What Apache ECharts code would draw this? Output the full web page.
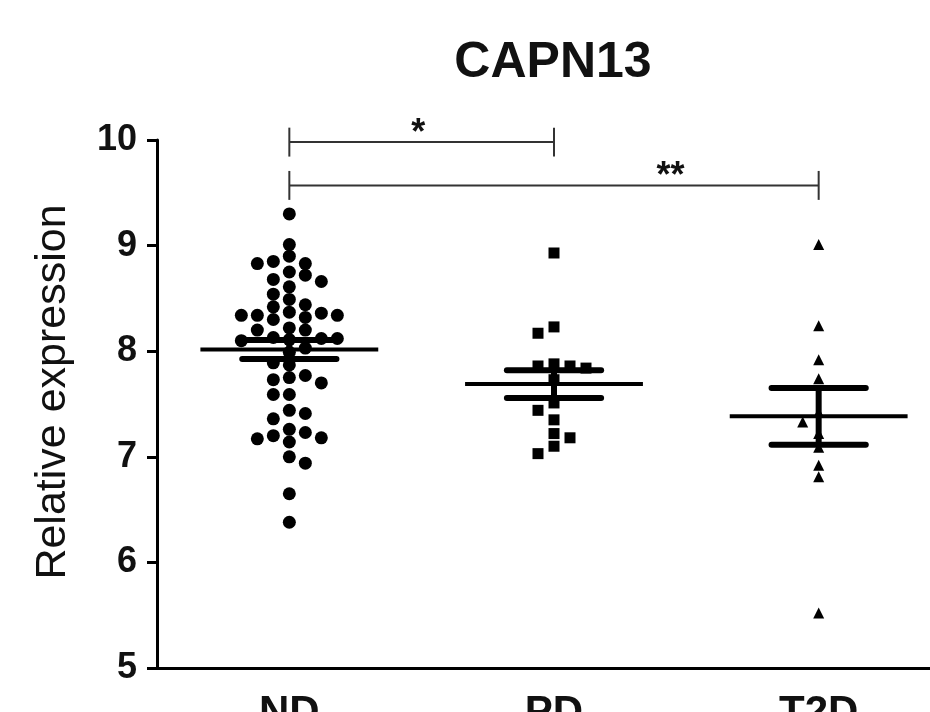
<!DOCTYPE html>
<html>
<head>
<meta charset="utf-8">
<script src="https://cdn.jsdelivr.net/npm/echarts@6/dist/echarts.min.js"></script>
<style>
  html, body { margin: 0; padding: 0; background: #ffffff; }
  #chart { width: 930px; height: 712px; }
</style>
</head>
<body>
<div id="chart"></div>
<script>
// Groups and per-subject relative expression of CAPN13
const categories = ['ND', 'PD', 'T2D'];

const ndValues = [
  9.30, 9.01, 8.90, 8.85, 8.83, 8.83, 8.75, 8.72, 8.68, 8.66,
  8.61, 8.54, 8.49, 8.44, 8.42, 8.37, 8.36, 8.34, 8.34, 8.34,
  8.32, 8.30, 8.22, 8.20, 8.20, 8.13, 8.12, 8.12, 8.11, 8.10,
  8.03, 7.99, 7.89, 7.87, 7.77, 7.75, 7.73, 7.70, 7.59, 7.59,
  7.44, 7.41, 7.36, 7.26, 7.23, 7.20, 7.18, 7.17, 7.14, 7.00,
  6.94, 6.65, 6.38
];
const pdValues = [
  8.93, 8.23, 8.17, 7.88, 7.86, 7.86, 7.84, 7.73, 7.51, 7.44,
  7.35, 7.22, 7.18, 7.10, 7.03
];
const t2dValues = [
  9.01, 8.24, 7.92, 7.74, 7.42, 7.33, 7.22, 7.09, 6.92, 6.81, 5.52
];

// Pairwise comparisons: [group A, group B] and their significance marks
const comparisons = [[0, 1], [0, 2]];
const significance = ['*', '**'];

const groups = [ndValues, pdValues, t2dValues];
const symbols = ['circle', 'rect', 'triangle'];
const symbolSizes = [13, 11, 11];

// Plot geometry
const GRID = { left: 157, top: 140, width: 794, height: 528 };
const Y_MIN = 5, Y_MAX = 10;
const pxPerY = GRID.height / (Y_MAX - Y_MIN);
const pxPerBand = GRID.width / categories.length;
const FONT = "'Liberation Sans', Arial, Helvetica, sans-serif";

// Scatter-dot layout: each point goes to the nearest free column around its group centre
function swarm(values, groupIndex) {
  const stepX = 16 / pxPerBand;
  const minGap = 11 / pxPerY;
  const order = values.map((v, i) => i).sort((a, b) => values[b] - values[a]);
  const columns = {};
  const out = new Array(values.length);
  let toggle = -1;
  order.forEach(idx => {
    const v = values[idx];
    const candidates = [0];
    for (let m = 1; m < 12; m++) { candidates.push(toggle * m, -toggle * m); }
    for (const c of candidates) {
      const col = columns[c] || (columns[c] = []);
      if (col.every(u => Math.abs(u - v) >= minGap)) {
        col.push(v);
        out[idx] = [groupIndex + 0.5 + c * stepX, v];
        if (c !== 0) toggle = -toggle;
        break;
      }
    }
  });
  return out;
}

function meanSem(values) {
  const n = values.length;
  const m = values.reduce((s, v) => s + v, 0) / n;
  const sd = Math.sqrt(values.reduce((s, v) => s + (v - m) * (v - m), 0) / (n - 1));
  return [m, sd / Math.sqrt(n)];
}

const scatterSeries = groups.map((vals, gi) => ({
  type: 'scatter',
  xAxisIndex: 1,
  yAxisIndex: 0,
  symbol: symbols[gi],
  symbolSize: symbolSizes[gi],
  itemStyle: { color: '#000000', opacity: 1 },
  data: swarm(vals, gi),
  z: 2,
  silent: true
}));

const summaryData = groups.map((vals, gi) => {
  const ms = meanSem(vals);
  return [gi + 0.5, ms[0], ms[1]];
});

const bracketLevels = [9.98, 9.57];
const labelFraction = [0.487, 0.72];
const bracketData = comparisons.map((p, i) => [p[0] + 0.5, p[1] + 0.5, bracketLevels[i], i]);

const option = {
  backgroundColor: '#ffffff',
  animation: false,
  title: {
    text: 'CAPN13',
    left: 548,
    top: 33,
    textAlign: 'center',
    textStyle: { fontFamily: FONT, fontSize: 50, fontWeight: 'bold', color: '#111111' }
  },
  grid: {
    left: GRID.left, top: GRID.top, width: GRID.width, height: GRID.height,
    containLabel: false,
    outerBoundsMode: 'none'
  },
  xAxis: [
    {
      type: 'category',
      data: categories,
      axisLine: { lineStyle: { color: '#000', width: 3 } },
      axisTick: { alignWithLabel: true, length: 10, lineStyle: { color: '#000', width: 3 } },
      axisLabel: { margin: 24, fontFamily: FONT, fontSize: 42, fontWeight: 'bold', color: '#111111' },
      splitLine: { show: false }
    },
    {
      type: 'value',
      min: 0,
      max: 3,
      show: false
    }
  ],
  yAxis: {
    type: 'value',
    min: Y_MIN,
    max: Y_MAX,
    interval: 1,
    name: 'Relative expression',
    nameLocation: 'middle',
    nameGap: 82,
    nameTextStyle: { fontFamily: FONT, fontSize: 43, color: '#111111', padding: [0, 0, 0, 24] },
    axisLine: { show: true, lineStyle: { color: '#000', width: 3 } },
    axisTick: { show: true, length: 10, lineStyle: { color: '#000', width: 3 } },
    axisLabel: { margin: 20, fontFamily: FONT, fontSize: 36, fontWeight: 'bold', color: '#111111' },
    splitLine: { show: false }
  },
  series: scatterSeries.concat([
    {
      // mean with SEM error bars
      type: 'custom',
      xAxisIndex: 1,
      yAxisIndex: 0,
      silent: true,
      z: 5,
      data: summaryData,
      encode: { x: 0, y: 1 },
      renderItem: function (params, api) {
        const x = api.value(0), m = api.value(1), s = api.value(2);
        const ml = api.coord([x - 0.336, m]), mr = api.coord([x + 0.336, m]);
        const ul = api.coord([x - 0.178, m + s]), ur = api.coord([x + 0.178, m + s]);
        const ll = api.coord([x - 0.178, m - s]), lr = api.coord([x + 0.178, m - s]);
        const stroke = { stroke: '#000', lineWidth: 6, lineCap: 'round' };
        return {
          type: 'group',
          children: [
            { type: 'line', shape: { x1: ml[0], y1: ml[1], x2: mr[0], y2: mr[1] }, style: { stroke: '#000', lineWidth: 4 } },
            { type: 'line', shape: { x1: ul[0], y1: ul[1], x2: ur[0], y2: ur[1] }, style: stroke },
            { type: 'line', shape: { x1: ll[0], y1: ll[1], x2: lr[0], y2: lr[1] }, style: stroke },
            { type: 'line', shape: { x1: (ul[0] + ur[0]) / 2, y1: ul[1], x2: (ll[0] + lr[0]) / 2, y2: ll[1] }, style: { stroke: '#000', lineWidth: 6 } }
          ]
        };
      }
    },
    {
      // significance brackets
      type: 'custom',
      xAxisIndex: 1,
      yAxisIndex: 0,
      silent: true,
      z: 6,
      clip: false,
      data: bracketData,
      encode: { x: [0, 1], y: 2 },
      renderItem: function (params, api) {
        const x1 = api.value(0), x2 = api.value(1), y = api.value(2), idx = api.value(3);
        const half = 0.137;
        const a = api.coord([x1, y]), b = api.coord([x2, y]);
        const aTop = api.coord([x1, y + half]), aBot = api.coord([x1, y - half]);
        const bTop = api.coord([x2, y + half]), bBot = api.coord([x2, y - half]);
        const tx = api.coord([x1 + (x2 - x1) * labelFraction[idx], y]);
        const st = { stroke: '#333', lineWidth: 2 };
        return {
          type: 'group',
          children: [
            { type: 'line', shape: { x1: a[0], y1: a[1], x2: b[0], y2: b[1] }, style: st },
            { type: 'line', shape: { x1: aTop[0], y1: aTop[1], x2: aBot[0], y2: aBot[1] }, style: st },
            { type: 'line', shape: { x1: bTop[0], y1: bTop[1], x2: bBot[0], y2: bBot[1] }, style: st },
            {
              type: 'text',
              x: tx[0],
              y: tx[1] + 10,
              style: {
                text: significance[idx],
                fontFamily: FONT,
                fontSize: 36,
                fontWeight: 'bold',
                fill: '#111111',
                align: 'center',
                verticalAlign: 'bottom'
              }
            }
          ]
        };
      }
    }
  ])
};

const chart = echarts.init(document.getElementById('chart'), null, { renderer: 'canvas' });
chart.setOption(option);
</script>
</body>
</html>
